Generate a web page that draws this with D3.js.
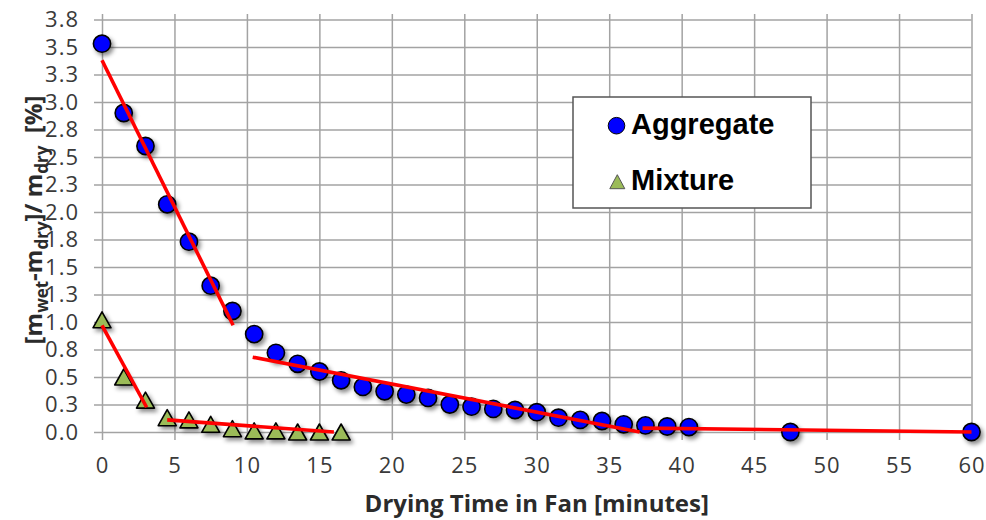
<!DOCTYPE html>
<html>
<head>
<meta charset="utf-8">
<script src="https://cdn.jsdelivr.net/npm/d3@7"></script>
<style>
  html, body { margin: 0; padding: 0; background: #fff; }
  svg { display: block; }
  .tick text { font-family: 'Open Sans', sans-serif; font-size: 22px; letter-spacing: 1px; }
</style>
</head>
<body>
<svg id="chart" width="986" height="520"></svg>
<script>
// Drying time (minutes) and moisture content (%) for each material
const aggregateTime = [0, 1.5, 3, 4.5, 6, 7.5, 9, 10.5, 12, 13.5, 15, 16.5, 18, 19.5, 21, 22.5,
  24, 25.5, 27, 28.5, 30, 31.5, 33, 34.5, 36, 37.5, 39, 40.5, 47.5, 60];
const aggregateMoisture = [3.53, 2.90, 2.60, 2.07, 1.73, 1.33, 1.10, 0.89, 0.72, 0.62, 0.55, 0.47,
  0.41, 0.37, 0.34, 0.31, 0.25, 0.23, 0.21, 0.20, 0.18, 0.13, 0.11, 0.10, 0.07, 0.06, 0.05, 0.045,
  0.0, 0.0];

const mixtureTime = [0, 1.5, 3, 4.5, 6, 7.5, 9, 10.5, 12, 13.5, 15, 16.5];
const mixtureMoisture = [1.02, 0.50, 0.29, 0.13, 0.11, 0.07, 0.03, 0.01, 0.01, 0.0, 0.0, 0.0];

// Piecewise linear trend segments: [startTime, startValue, endTime, endValue]
const aggregateTrends = [
  [0, 3.38, 9.05, 0.97],
  [10.4, 0.68, 37.1, 0.0],
  [37.3, 0.035, 60, 0.0]
];
const mixtureTrends = [
  [0, 0.97, 3.08, 0.225],
  [4.5, 0.11, 16, 0.0]
];

// Axis ticks
const xTickValues = [0, 5, 10, 15, 20, 25, 30, 35, 40, 45, 50, 55, 60];
const xTickLabels = ["0", "5", "10", "15", "20", "25", "30", "35", "40", "45", "50", "55", "60"];
const yTickValues = [0, 0.25, 0.5, 0.75, 1, 1.25, 1.5, 1.75, 2, 2.25, 2.5, 2.75, 3, 3.25, 3.5, 3.75];
const yTickLabels = ["0.0", "0.3", "0.5", "0.8", "1.0", "1.3", "1.5", "1.8", "2.0", "2.3", "2.5",
  "2.8", "3.0", "3.3", "3.5", "3.8"];

const seriesNames = ["Aggregate", "Mixture"];

// Layout
const plot = { left: 102, right: 971.5, top: 14, bottom: 432 };
const tickLen = 8;
const gridColor = "#a3a3a3";
const blue = "#0000ff";
const green = "#9bbb59";
const red = "#ff0000";
const textColor = "#2b2b2b";

const svg = d3.select("#chart");

const x = d3.scaleLinear().domain([0, 60]).range([plot.left, plot.right]);
const y = d3.scaleLinear().domain([0, 3.8]).range([plot.bottom, plot.top]);

// Drop shadow for data markers
const defs = svg.append("defs");
const shadow = defs.append("filter").attr("id", "markerShadow")
  .attr("x", "-50%").attr("y", "-50%").attr("width", "200%").attr("height", "200%");
shadow.append("feDropShadow")
  .attr("dx", 2.5).attr("dy", 3).attr("stdDeviation", 2)
  .attr("flood-color", "#000").attr("flood-opacity", 0.45);

const plotW = plot.right - plot.left;
const plotH = plot.bottom - plot.top;

function styleTicks(g) {
  g.attr("font-size", 22).attr("font-family", "'Open Sans', sans-serif");
  g.select(".domain").remove();
  g.selectAll(".tick line").attr("stroke", gridColor).attr("stroke-width", 1.5);
  g.selectAll(".tick text")
    .attr("fill", "#3a3a3a")
    .attr("font-size", 22);
}

// Horizontal grid lines with left tick marks and labels
const yAxis = d3.axisLeft(y)
  .tickValues(yTickValues)
  .tickFormat((d, i) => yTickLabels[i])
  .tickSize(plotW + tickLen)
  .tickPadding(15);

svg.append("g")
  .attr("transform", `translate(${plot.right},0)`)
  .call(yAxis)
  .call(styleTicks);

// Vertical grid lines with bottom tick marks and labels
const xAxis = d3.axisBottom(x)
  .tickValues(xTickValues)
  .tickFormat((d, i) => xTickLabels[i])
  .tickSize(plotH + tickLen)
  .tickPadding(17);

svg.append("g")
  .attr("transform", `translate(0,${plot.top})`)
  .call(xAxis)
  .call(styleTicks);

// Triangle marker centred on its bounding box
function trianglePath(w, h) {
  return `M0,${-h / 2}L${w / 2},${h / 2}L${-w / 2},${h / 2}Z`;
}

// Markers
const markers = svg.append("g").attr("filter", "url(#markerShadow)");

markers.selectAll("path.mixture")
  .data(d3.zip(mixtureTime, mixtureMoisture))
  .join("path")
  .attr("class", "mixture")
  .attr("transform", d => `translate(${x(d[0])},${y(d[1])})`)
  .attr("d", trianglePath(18, 16))
  .attr("fill", green)
  .attr("stroke", "#000")
  .attr("stroke-width", 1.6)
  .attr("stroke-linejoin", "round");

markers.selectAll("circle.aggregate")
  .data(d3.zip(aggregateTime, aggregateMoisture))
  .join("circle")
  .attr("class", "aggregate")
  .attr("cx", d => x(d[0]))
  .attr("cy", d => y(d[1]))
  .attr("r", 8.6)
  .attr("fill", blue)
  .attr("stroke", "#000")
  .attr("stroke-width", 1.6);

// Trend segments drawn over the markers
svg.append("g")
  .selectAll("line")
  .data(aggregateTrends.concat(mixtureTrends))
  .join("line")
  .attr("x1", d => x(d[0]))
  .attr("y1", d => y(d[1]))
  .attr("x2", d => x(d[2]))
  .attr("y2", d => y(d[3]))
  .attr("stroke", red)
  .attr("stroke-width", 3.6)
  .attr("stroke-linecap", "butt");

// Axis titles
svg.append("text")
  .attr("x", (plot.left + plot.right) / 2)
  .attr("y", 512)
  .attr("text-anchor", "middle")
  .attr("fill", textColor)
  .style("font-family", "'Open Sans', sans-serif")
  .style("font-size", "24px")
  .style("font-weight", "bold")
  .text("Drying Time in Fan [minutes]");

const yTitle = svg.append("text")
  .attr("transform", "translate(42,220) rotate(-90)")
  .attr("text-anchor", "middle")
  .attr("fill", textColor)
  .style("font-family", "'Open Sans', sans-serif")
  .style("font-size", "24px")
  .style("font-weight", "bold");
const titleParts = [
  ["[m", false], ["wet", true], ["-m", false], ["dry", true],
  ["]/ m", false], ["dry", true], ["\u00a0\u00a0[%]", false]
];
let shifted = false;
titleParts.forEach(([t, sub]) => {
  const dy = sub && !shifted ? 6 : (!sub && shifted ? -6 : 0);
  shifted = sub;
  yTitle.append("tspan")
    .attr("dy", dy || null)
    .style("font-size", sub ? "17px" : null)
    .text(t);
});

// Legend
const legend = svg.append("g");
legend.append("rect")
  .attr("x", 573).attr("y", 97)
  .attr("width", 238).attr("height", 111)
  .attr("fill", "#fff")
  .attr("stroke", "#555")
  .attr("stroke-width", 1.5);

legend.append("circle")
  .attr("cx", 616.5).attr("cy", 125.7).attr("r", 8.3)
  .attr("fill", blue).attr("stroke", "#000").attr("stroke-width", 1);
legend.append("path")
  .attr("transform", "translate(617.3,181.7)")
  .attr("d", trianglePath(15, 14))
  .attr("fill", green).attr("stroke", "#555").attr("stroke-width", 1);

legend.selectAll("text")
  .data(seriesNames)
  .join("text")
  .attr("x", 631)
  .attr("y", (d, i) => i === 0 ? 134 : 189.5)
  .attr("fill", "#000")
  .style("font-family", "'Liberation Sans', Arial, sans-serif")
  .style("font-size", "29px")
  .style("font-weight", "bold")
  .text(d => d);
</script>
</body>
</html>
